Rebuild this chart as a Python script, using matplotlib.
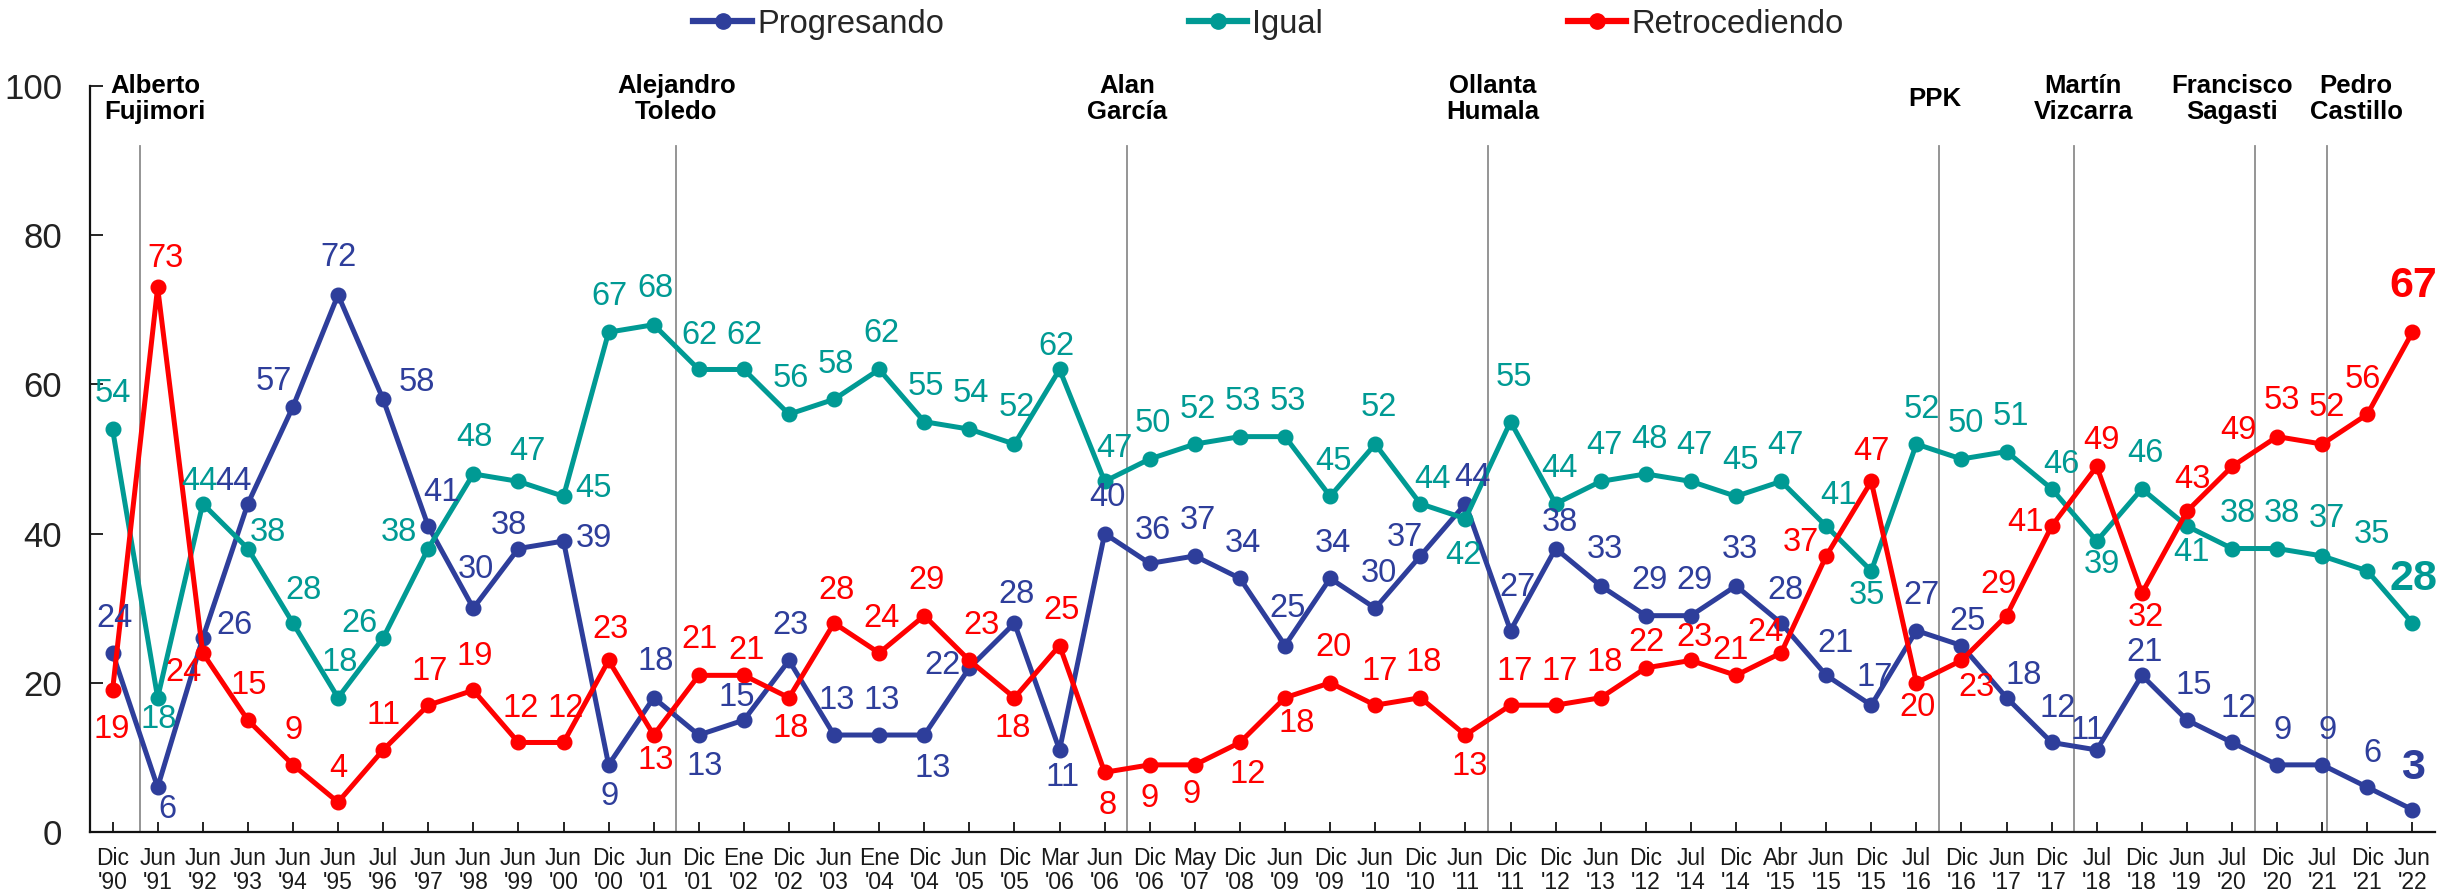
import matplotlib
matplotlib.use("Agg")
import matplotlib.pyplot as plt
from matplotlib.lines import Line2D

plt.rcParams['font.family'] = ['Liberation Sans', 'DejaVu Sans']

# ---------------- data ----------------
months = ["Dic", "Jun", "Jun", "Jun", "Jun", "Jun", "Jul", "Jun", "Jun", "Jun", "Jun", "Dic", "Jun",
          "Dic", "Ene", "Dic", "Jun", "Ene", "Dic", "Jun", "Dic", "Mar", "Jun", "Dic", "May", "Dic",
          "Jun", "Dic", "Jun", "Dic", "Jun", "Dic", "Dic", "Jun", "Dic", "Jul", "Dic", "Abr", "Jun",
          "Dic", "Jul", "Dic", "Jun", "Dic", "Jul", "Dic", "Jun", "Jul", "Dic", "Jul", "Dic", "Jun"]
years = ["'90", "'91", "'92", "'93", "'94", "'95", "'96", "'97", "'98", "'99", "'00", "'00", "'01",
         "'01", "'02", "'02", "'03", "'04", "'04", "'05", "'05", "'06", "'06", "'06", "'07", "'08",
         "'09", "'09", "'10", "'10", "'11", "'11", "'12", "'13", "'12", "'14", "'14", "'15", "'15",
         "'15", "'16", "'16", "'17", "'17", "'18", "'18", "'19", "'20", "'20", "'21", "'21", "'22"]

progresando = [24, 6, 26, 44, 57, 72, 58, 41, 30, 38, 39, 9, 18, 13, 15, 23, 13, 13, 13, 22, 28, 11,
               40, 36, 37, 34, 25, 34, 30, 37, 44, 27, 38, 33, 29, 29, 33, 28, 21, 17, 27, 25, 18,
               12, 11, 21, 15, 12, 9, 9, 6, 3]
igual = [54, 18, 44, 38, 28, 18, 26, 38, 48, 47, 45, 67, 68, 62, 62, 56, 58, 62, 55, 54, 52, 62,
         47, 50, 52, 53, 53, 45, 52, 44, 42, 55, 44, 47, 48, 47, 45, 47, 41, 35, 52, 50, 51,
         46, 39, 46, 41, 38, 38, 37, 35, 28]
retrocediendo = [19, 73, 24, 15, 9, 4, 11, 17, 19, 12, 12, 23, 13, 21, 21, 18, 28, 24, 29, 23, 18, 25,
                 8, 9, 9, 12, 18, 20, 17, 18, 13, 17, 17, 18, 22, 23, 21, 24, 37, 47, 20, 23, 29,
                 41, 49, 32, 43, 49, 53, 52, 56, 67]

series_names = ["Progresando", "Igual", "Retrocediendo"]

presidents = ["Alberto\nFujimori", "Alejandro\nToledo", "Alan\nGarcía", "Ollanta\nHumala", "PPK",
              "Martín\nVizcarra", "Francisco\nSagasti", "Pedro\nCastillo"]

# ---------------- layout / style ----------------
# label offsets (dx, dy) in pixels relative to each point
off_p = [(2, 34), (10, -22), (32, 13), (-14, 22), (-19, 25), (0, 37), (34, 17), (13, 34), (3, 39),
         (-10, 23), (30, 3), (1, -32), (2, 36), (6, -31), (-7, 23), (2, 35), (3, 35), (3, 35),
         (8, -33), (-27, 2), (2, 29), (3, -28), (3, 36), (3, 33), (3, 35), (3, 35), (3, 37),
         (3, 35), (4, 35), (-15, 18), (7, 26), (7, 43), (4, 26), (4, 36), (4, 35), (4, 35),
         (4, 36), (4, 33), (9, 32), (3, 28), (5, 35), (6, 24), (17, 22), (6, 34), (-9, 19),
         (3, 23), (7, 35), (7, 34), (5, 34), (5, 34), (5, 34), (1, 42)]
off_i = [(0, 36), (1, -22), (-3, 22), (20, 16), (11, 33), (2, 35), (-24, 15), (-29, 16), (1, 36),
         (9, 30), (30, 8), (1, 36), (2, 36), (1, 34), (1, 34), (2, 36), (2, 35), (2, 36), (2, 35),
         (2, 36), (2, 37), (-3, 23), (10, 33), (3, 35), (3, 35), (3, 35), (3, 35), (3, 35),
         (4, 37), (12, 24), (-2, -37), (3, 44), (4, 35), (4, 36), (4, 34), (4, 36), (4, 36),
         (4, 36), (12, 31), (-4, -25), (5, 35), (4, 35), (4, 35), (10, 24), (5, -23), (3, 35),
         (5, -26), (6, 35), (5, 35), (5, 37), (5, 36), (1, 44)]
off_r = [(-1, -39), (8, 29), (-19, -20), (1, 35), (1, 34), (0, 34), (0, 34), (1, 34), (1, 34),
         (2, 34), (2, 34), (2, 31), (2, -25), (1, 36), (3, 25), (2, -31), (2, 33), (2, 34),
         (2, 35), (12, 35), (-2, -31), (2, 35), (3, -33), (0, -34), (-3, -30), (8, -32),
         (12, -26), (3, 35), (4, 34), (3, 35), (4, -31), (4, 34), (4, 34), (4, 35), (1, 25),
         (4, 23), (-5, 25), (-16, 20), (-25, 13), (0, 30), (1, -25), (15, -27), (-8, 31),
         (-26, 4), (5, 26), (4, -24), (5, 32), (6, 36), (5, 36), (5, 37), (-5, 35), (1, 46)]

colors = ["#2E3E9B", "#009A94", "#FF0000"]
president_lines = [0.6, 12.5, 22.5, 30.5, 40.5, 43.5, 47.5, 49.1]
president_label_x = [0.95, 12.5, 22.5, 30.6, 40.4, 43.7, 47.0, 49.75]

W, H, DPI = 2463, 892, 100
fig = plt.figure(figsize=(W / DPI, H / DPI), dpi=DPI)
ax = fig.add_axes([90 / W, 1 - 832 / H, (2435 - 90) / W, (832 - 86) / H])

x = list(range(len(months)))
all_series = [progresando, igual, retrocediendo]
all_offsets = [off_p, off_i, off_r]
px2pt = 72 / DPI

for vx in president_lines:
    ax.plot([vx, vx], [0, 92], color="#8C8C8C", lw=1.3, zorder=1, clip_on=False)

for vals, col, offs, name in zip(all_series, colors, all_offsets, series_names):
    ax.plot(x, vals, color=col, lw=3.6, marker='o', markersize=10.5, zorder=3, label=name,
            solid_joinstyle='round')
    n = len(vals)
    for i, (v, (dx, dy)) in enumerate(zip(vals, offs)):
        last = (i == n - 1)
        ax.annotate(str(v), (x[i], v), xytext=(dx * px2pt, dy * px2pt), textcoords='offset points',
                    ha='center', va='center', color=col,
                    fontsize=31 if last else 23.5, fontweight='bold' if last else 'normal',
                    zorder=4, annotation_clip=False)

for px_, name in zip(president_label_x, presidents):
    ax.text(px_, 98.3, name, ha='center', va='center', fontsize=18.5, fontweight='bold',
            color='black', linespacing=1.1, clip_on=False)

ax.set_xlim(-0.5, 51.5)
ax.set_ylim(0, 100)
ax.set_xticks(x)
ax.set_xticklabels([f"{m}\n{y}" for m, y in zip(months, years)], fontsize=16.5, color='#1a1a1a',
                   linespacing=1.05)
ax.set_yticks([0, 20, 40, 60, 80, 100])
ax.set_yticklabels(["0", "20", "40", "60", "80", "100"], fontsize=25, color='#222222')
ax.tick_params(axis='x', direction='in', length=7, width=1.2, pad=11)
ax.tick_params(axis='y', direction='in', length=9, width=1.2, pad=20)
for s in ['top', 'right']:
    ax.spines[s].set_visible(False)
for s in ['left', 'bottom']:
    ax.spines[s].set_linewidth(1.6)
    ax.spines[s].set_color('#111111')

handles = [Line2D([0], [0], color=c, lw=4.5, marker='o', markersize=11) for c in colors]
fig.legend(handles, series_names, loc='center', bbox_to_anchor=(0.515, 0.973), ncol=3,
           frameon=False, fontsize=23.5, columnspacing=7.5, handlelength=1.8, handletextpad=0.15,
           labelcolor='#262626')

fig.savefig("out.png", dpi=DPI)
